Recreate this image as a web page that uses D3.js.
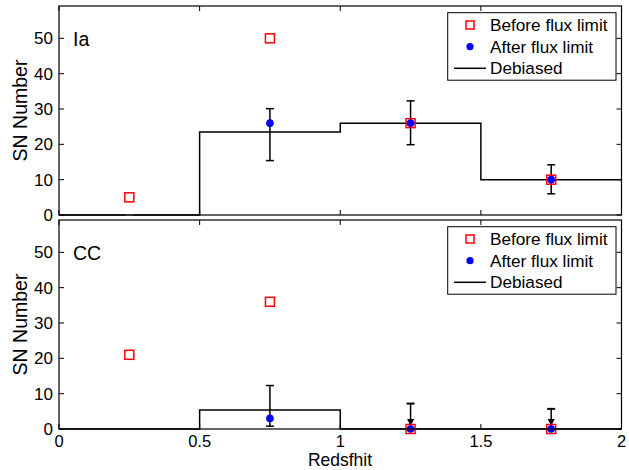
<!DOCTYPE html>
<html><head><meta charset="utf-8">
<script src="https://cdn.jsdelivr.net/npm/d3@7"></script>
<style>body{margin:0;background:#fff}svg{display:block}text{font-family:"Liberation Sans",Arial,sans-serif}</style>
</head><body><svg id="c" width="629" height="470"></svg>
<script>
const xCenters = [0.25, 0.75, 1.25, 1.75];
const binEdges = [0, 0.5, 1, 1.5, 2];
const xTicks = [0, 0.5, 1, 1.5, 2];
const yTicks = [0, 10, 20, 30, 40, 50];

const iaBefore = [5, 50, 26, 10];
const iaAfter = [null, 26, 26, 10];
const iaErrLow = [0, 15.4, 19.9, 6.0];
const iaErrHigh = [0, 30.1, 32.3, 14.2];
const iaDebiased = [0, 23.5, 26, 10];

const ccBefore = [21, 36, 0, 0];
const ccAfter = [null, 3, 0, 0];
const ccErrLow = [null, 0.8, null, null];
const ccErrHigh = [null, 12.3, null, null];
const ccUpperLimit = [null, null, 7.2, 5.7];
const ccDebiased = [0, 5.4, 0, 0];

const svg = d3.select("#c");
const defs = svg.append("defs");
defs.append("marker").attr("id","arr").attr("viewBox","0 0 10 10").attr("refX",10).attr("refY",5)
  .attr("markerWidth",7).attr("markerHeight",7).attr("markerUnits","userSpaceOnUse").attr("orient","auto")
  .append("path").attr("d","M0,0L10,5L0,10Z").attr("fill","#000");

const L = 59, R = 621.5;
const x = d3.scaleLinear().domain([0, 2]).range([L, R]);

function panel(top, bottom, label, before, after, eLo, eHi, ul, deb, showXLabels) {
  const y = d3.scaleLinear().domain([0, 59.15]).range([bottom, top]);
  const g = svg.append("g");
  const pts = [];
  deb.forEach((v, i) => { pts.push([binEdges[i], v]); pts.push([binEdges[i+1], v]); });
  g.append("path").attr("d", d3.line().x(d => x(d[0])).y(d => y(d[1]))(pts))
    .attr("fill","none").attr("stroke","#000").attr("stroke-width",1.5);
  xCenters.forEach((xc, i) => {
    if (eLo[i] == null) return;
    const cx = x(xc), y1 = y(eLo[i]), y2 = y(eHi[i]);
    g.append("line").attr("x1",cx).attr("x2",cx).attr("y1",y1).attr("y2",y2).attr("stroke","#000").attr("stroke-width",1.5);
    [y1, y2].forEach(yy => g.append("line").attr("x1",cx-4).attr("x2",cx+4).attr("y1",yy).attr("y2",yy).attr("stroke", eHi[i]===0?"#888":"#000").attr("stroke-width",1.5));
  });
  if (ul) xCenters.forEach((xc, i) => {
    if (ul[i] == null) return;
    const cx = x(xc), yt = y(ul[i]);
    g.append("line").attr("x1",cx-4).attr("x2",cx+4).attr("y1",yt).attr("y2",yt).attr("stroke","#000").attr("stroke-width",2);
    g.append("line").attr("x1",cx).attr("x2",cx).attr("y1",yt).attr("y2",y(0)-3).attr("stroke","#000").attr("stroke-width",1.5).attr("marker-end","url(#arr)");
  });
  xCenters.forEach((xc, i) => {
    g.append("rect").attr("x", x(xc)-4.5).attr("y", y(before[i])-4.5).attr("width",9).attr("height",9)
      .attr("fill","none").attr("stroke","#ff0000").attr("stroke-width",1.5);
  });
  xCenters.forEach((xc, i) => {
    if (after[i] == null) return;
    g.append("circle").attr("cx", x(xc)).attr("cy", y(after[i])).attr("r",3.8).attr("fill","#0000ff");
  });
  g.append("rect").attr("x",L).attr("y",top).attr("width",R-L).attr("height",bottom-top)
    .attr("fill","none").attr("stroke","#000").attr("stroke-width",1.2);
  const tl = 5;
  xTicks.forEach(t => {
    g.append("line").attr("x1",x(t)).attr("x2",x(t)).attr("y1",bottom).attr("y2",bottom-tl).attr("stroke","#000");
    g.append("line").attr("x1",x(t)).attr("x2",x(t)).attr("y1",top).attr("y2",top+tl).attr("stroke","#000");
  });
  yTicks.forEach(t => {
    g.append("line").attr("x1",L).attr("x2",L+tl).attr("y1",y(t)).attr("y2",y(t)).attr("stroke","#000");
    g.append("line").attr("x1",R).attr("x2",R-tl).attr("y1",y(t)).attr("y2",y(t)).attr("stroke","#000");
    g.append("text").attr("x",L-6).attr("y",y(t)+6).attr("text-anchor","end").attr("font-size",17).text(t);
  });
  if (showXLabels) xTicks.forEach(t => {
    g.append("text").attr("x",x(t)).attr("y",bottom+18).attr("text-anchor","middle").attr("font-size",16.5).text(t);
  });
  g.append("text").attr("x",73).attr("y",top+40).attr("font-size",19.5).text(label);
  g.append("text").attr("transform",`translate(27,${(top+bottom)/2}) rotate(-90)`).attr("text-anchor","middle").attr("font-size",19.5).text("SN Number");
  const lx = 447.7, ly = top + 6.7, lw = 168.3, lh = 67.5;
  const lg = g.append("g");
  lg.append("rect").attr("x",lx).attr("y",ly).attr("width",lw).attr("height",lh).attr("fill","#fff").attr("stroke","#000").attr("stroke-width",1);
  const rows = [ly+12.3, ly+34, ly+55.6];
  lg.append("rect").attr("x",470-4).attr("y",rows[0]-4).attr("width",8).attr("height",8).attr("fill","none").attr("stroke","#ff0000").attr("stroke-width",1.5);
  lg.append("circle").attr("cx",470).attr("cy",rows[1]).attr("r",3.6).attr("fill","#0000ff");
  lg.append("line").attr("x1",454).attr("x2",486).attr("y1",rows[2]).attr("y2",rows[2]).attr("stroke","#000").attr("stroke-width",1.5);
  ["Before flux limit","After flux limit","Debiased"].forEach((s,i) =>
    lg.append("text").attr("x",490).attr("y",rows[i]+6).attr("font-size",17.2).text(s));
}

panel(6, 215, "Ia", iaBefore, iaAfter, iaErrLow, iaErrHigh, null, iaDebiased, false);
panel(220, 429, "CC", ccBefore, ccAfter, ccErrLow, ccErrHigh, ccUpperLimit, ccDebiased, true);

svg.append("text").attr("x",340).attr("y",466).attr("text-anchor","middle").attr("font-size",17.5).text("Redsfhit");
</script></body></html>
